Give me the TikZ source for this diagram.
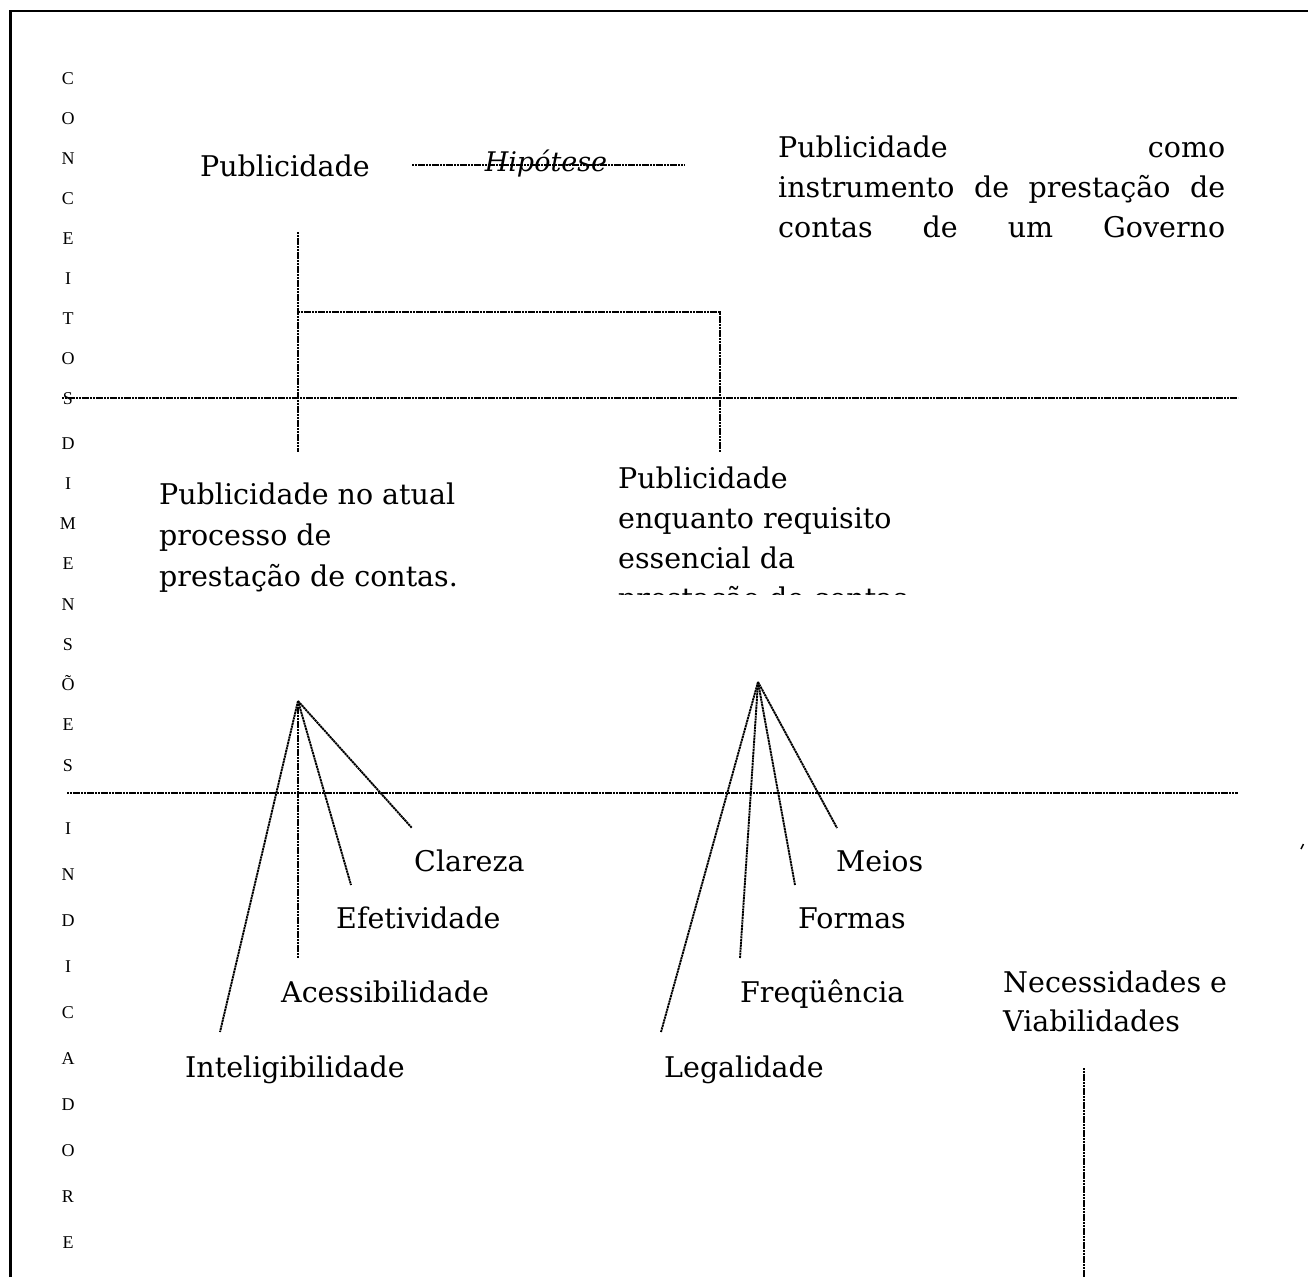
\documentclass[tikz,border=0pt]{standalone}
\usepackage{fontspec}
\setmainfont{DejaVu Serif}
\newfontfamily\lettfont{Liberation Serif}
\begin{document}
\begin{tikzpicture}[x=1pt,y=-1pt,
  lbl/.style={inner sep=0pt,anchor=base west,font=\fontsize{28.5}{40}\selectfont},
  vlet/.style={inner sep=0pt,anchor=base,font=\lettfont\fontsize{18}{18}\selectfont},
  dl/.style={line width=1.9pt,dash pattern=on 2.2pt off 0.6pt},
  frame/.style={line width=2.4pt}]
\useasboundingbox (0,0) rectangle (1308,1277);
% frame
\coordinate (fbl) at (10.5,1277);
\coordinate (ftl) at (10.5,11);
\coordinate (ftr) at (1308,11);
\draw[frame] (fbl) -- (ftl) -- (ftr);
% vertical letters
\foreach \l [count=\i from 0] in {C,O,N,C,E,I,T,O,S}
  \node[vlet] (ta\i) at (68,{84+40*\i}) {\l};
\foreach \l [count=\i from 0] in {D,I,M,E,N,S,Õ,E,S}
  \node[vlet] (tb\i) at (68,{449+40.25*\i}) {\l};
\foreach \l [count=\i from 0] in {I,N,D,I,C,A,D,O,R,E}
  \node[vlet] (tc\i) at (68,{834+46*\i}) {\l};
% horizontal division lines
\coordinate (h1a) at (62,398); \coordinate (h1b) at (1238,398);
\coordinate (h2a) at (67,793); \coordinate (h2b) at (1238,793);
\draw[dl] (h1a) -- (h1b);
\draw[dl] (h2a) -- (h2b);
% top concepts
\node[lbl] (pub) at (200,176) {Publicidade};
\coordinate (hypa) at (412,165); \coordinate (hypb) at (685,165);
\draw[dl] (hypa) -- (hypb);
\node[lbl,anchor=base,font=\itshape\fontsize{27}{30}\selectfont] (hyp) at (546,171) {Hipótese};
\node[lbl] (r1) at (778,157) {\makebox[447pt][s]{Publicidade como}};
\node[lbl] (r2) at (778,197) {\makebox[447pt][s]{instrumento de prestação de}};
\node[lbl] (r3) at (778,237) {\makebox[447pt][s]{contas de um Governo}};
% bracket connecting to dimensions
\coordinate (v1t) at (298,232); \coordinate (v1b) at (298,452);
\coordinate (v1m) at (298,312);
\coordinate (v2t) at (720,312); \coordinate (v2b) at (720,452);
\draw[dl] (v1t) -- (v1b);
\draw[dl] (v1m) -- (v2t) -- (v2b);
% dimensions (clipped text boxes)
\begin{scope}
\clip (100,440) rectangle (1000,594);
\node[lbl] (d1a) at (159,504) {Publicidade no atual};
\node[lbl] (d1b) at (159,545) {processo de};
\node[lbl] (d1c) at (159,586) {prestação de contas.};
\node[lbl] (d2a) at (618,488) {Publicidade};
\node[lbl] (d2b) at (618,528) {enquanto requisito};
\node[lbl] (d2c) at (618,568) {essencial da};
\node[lbl] (d2d) at (618,608) {prestação de contas};
\end{scope}
% fan 1
\coordinate (ap1) at (298,701);
\coordinate (e11) at (220,1032);
\coordinate (e12) at (298,958);
\coordinate (e13) at (351,885);
\coordinate (e14) at (412,828);
\foreach \e in {e11,e12,e13,e14} \draw[dl] (ap1) -- (\e);
\node[lbl] (cla) at (414,871) {Clareza};
\node[lbl] (efe) at (336,928) {Efetividade};
\node[lbl] (ace) at (281,1002) {Acessibilidade};
\node[lbl] (int) at (185,1077) {Inteligibilidade};
% fan 2
\coordinate (ap2) at (758,682);
\coordinate (e21) at (661,1032);
\coordinate (e22) at (740,958);
\coordinate (e23) at (795,885);
\coordinate (e24) at (837,828);
\foreach \e in {e21,e22,e23,e24} \draw[dl] (ap2) -- (\e);
\node[lbl] (mei) at (836,871) {Meios};
\node[lbl] (for) at (798,928) {Formas};
\node[lbl] (fre) at (740,1002) {Freqüência};
\node[lbl] (leg) at (664,1077) {Legalidade};
% necessidades
\node[lbl] (neca) at (1003,992) {Necessidades e};
\node[lbl] (necb) at (1003,1031) {Viabilidades};
\coordinate (n1) at (1084,1068); \coordinate (n2) at (1084,1277);
\draw[dl] (n1) -- (n2);
% small mark
\coordinate (m1) at (1301,849); \coordinate (m2) at (1303.5,844);
\draw[line width=1.5pt] (m1) -- (m2);
\end{tikzpicture}
\end{document}
